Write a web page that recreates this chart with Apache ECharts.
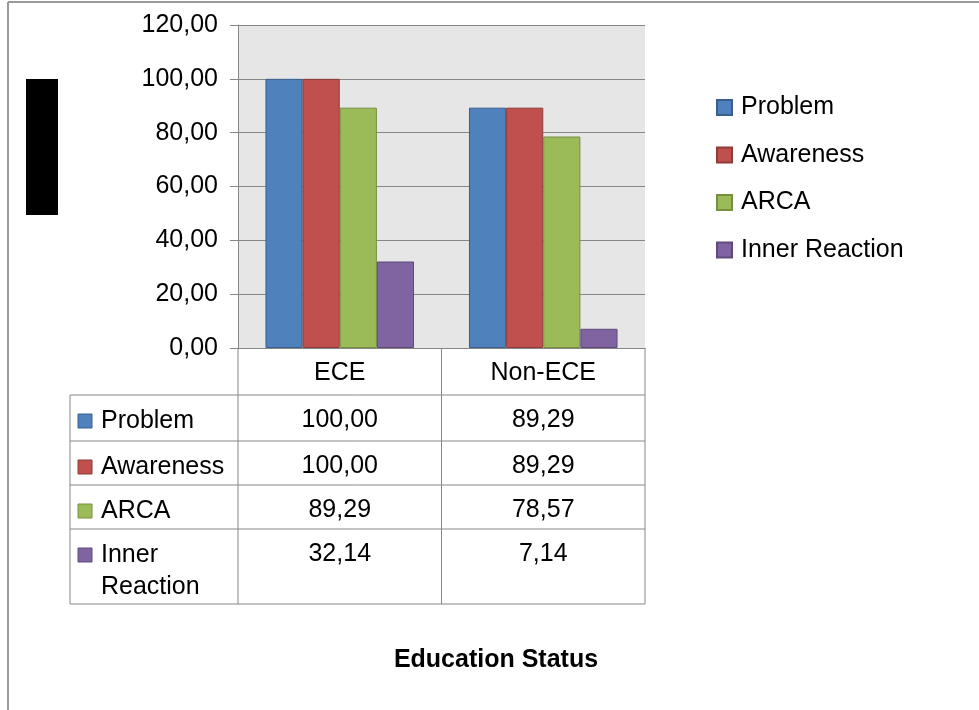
<!DOCTYPE html>
<html>
<head>
<meta charset="utf-8">
<script src="https://cdn.jsdelivr.net/npm/echarts@6/dist/echarts.min.js"></script>
<style>
  html, body { margin: 0; padding: 0; background: #fff; }
  #main { width: 979px; height: 710px; }
</style>
</head>
<body>
<div id="main"></div>
<script>
const categories = ["ECE", "Non-ECE"];
const seriesNames = ["Problem", "Awareness", "ARCA", "Inner Reaction"];
const problem = [100.0, 89.29];
const awareness = [100.0, 89.29];
const arca = [89.29, 78.57];
const innerReaction = [32.14, 7.14];
const yMin = 0, yMax = 120, yStep = 20;
const xTitle = "Education Status";

const values = [problem, awareness, arca, innerReaction];
const colors = ["#4f81bd", "#c0504d", "#9bbb59", "#8064a2"];
const borders = ["#3a5f8f", "#8e3b39", "#76903f", "#5f4a7a"];
const font = "'Liberation Sans', Arial, sans-serif";
const fmt = (v) => v.toFixed(2).replace(".", ",");

// plot area / table geometry
const plotLeft = 238, plotRight = 645, plotTop = 25, plotBottom = 348;
const tableLeft = 70;
const rowLines = [395, 441, 485, 529, 604];
const lineColor = "#878787";

const chart = echarts.init(document.getElementById("main"));

const graphics = [];
const hline = (x1, x2, y) =>
  graphics.push({ type: "line", shape: { x1, y1: y, x2, y2: y }, style: { stroke: lineColor, lineWidth: 1 }, silent: true });
const vline = (x, y1, y2) =>
  graphics.push({ type: "line", shape: { x1: x, y1, x2: x, y2 }, style: { stroke: lineColor, lineWidth: 1 }, silent: true });

// outer frame (top + left only visible)
graphics.push({ type: "line", shape: { x1: 8, y1: 2, x2: 979, y2: 2 }, style: { stroke: "#9a9a9a", lineWidth: 2 } });
graphics.push({ type: "line", shape: { x1: 8, y1: 2, x2: 8, y2: 710 }, style: { stroke: "#9a9a9a", lineWidth: 2 } });
// blacked-out axis title
graphics.push({ type: "rect", shape: { x: 26, y: 79, width: 32, height: 136 }, style: { fill: "#000" } });

// data table
const band = (plotRight - plotLeft) / categories.length;
rowLines.forEach((y) => hline(tableLeft, plotRight, y));
vline(tableLeft, rowLines[0], rowLines[rowLines.length - 1]);
for (let i = 0; i <= categories.length; i++) {
  vline(plotLeft + i * band, plotBottom, rowLines[rowLines.length - 1]);
}
seriesNames.forEach((name, r) => {
  const top = rowLines[r];
  graphics.push({
    type: "rect",
    shape: { x: 78, y: top + 19, width: 14, height: 14 },
    style: { fill: colors[r], stroke: borders[r], lineWidth: 1 },
  });
  graphics.push({
    type: "text",
    x: 101, y: top + 10,
    style: {
      text: name, font: "25px " + font, fill: "#000",
      width: 130, overflow: "break", lineHeight: 32,
      textVerticalAlign: "top", verticalAlign: "top",
    },
  });
  categories.forEach((c, i) => {
    graphics.push({
      type: "text",
      x: plotLeft + (i + 0.5) * band, y: top + 13,
      style: {
        text: fmt(values[r][i]), font: "25px " + font, fill: "#000",
        align: "center", textAlign: "center", verticalAlign: "top", textVerticalAlign: "top",
      },
    });
  });
});

chart.setOption({
  animation: false,
  textStyle: { fontFamily: font },
  title: {
    text: xTitle,
    left: 496, top: 648,
    padding: 0,
    textAlign: "center",
    textStyle: { fontSize: 25, fontWeight: "bold", color: "#000", fontFamily: font },
  },
  legend: {
    orient: "vertical",
    left: 716, top: 95,
    padding: 0,
    itemWidth: 15, itemHeight: 15,
    itemGap: 22.5,
    icon: "rect",
    textStyle: { fontSize: 25, color: "#000", padding: [0, 0, 0, 4] },
    data: seriesNames,
  },
  grid: {
    left: plotLeft, right: 979 - plotRight, top: plotTop, bottom: 710 - plotBottom,
    show: true, backgroundColor: "#e6e6e6", borderWidth: 0,
  },
  xAxis: {
    type: "category",
    data: categories,
    axisLine: { show: true, lineStyle: { color: lineColor } },
    axisTick: { show: false },
    axisLabel: { fontSize: 25, color: "#000", margin: 13, lineHeight: 25 },
  },
  yAxis: {
    type: "value",
    min: yMin, max: yMax, interval: yStep,
    axisLine: { show: true, lineStyle: { color: lineColor } },
    axisTick: { show: true, length: 8, lineStyle: { color: lineColor } },
    axisLabel: { fontSize: 25, color: "#000", margin: 20, formatter: fmt },
    splitLine: { lineStyle: { color: lineColor } },
  },
  series: seriesNames.map((name, i) => ({
    name,
    type: "bar",
    data: values[i],
    barGap: "0%",
    barCategoryGap: "27%",
    itemStyle: { color: colors[i], borderColor: borders[i], borderWidth: 1 },
  })),
  graphic: graphics,
});

window.addEventListener("resize", () => {
  chart.resize();
});
</script>
</body>
</html>
